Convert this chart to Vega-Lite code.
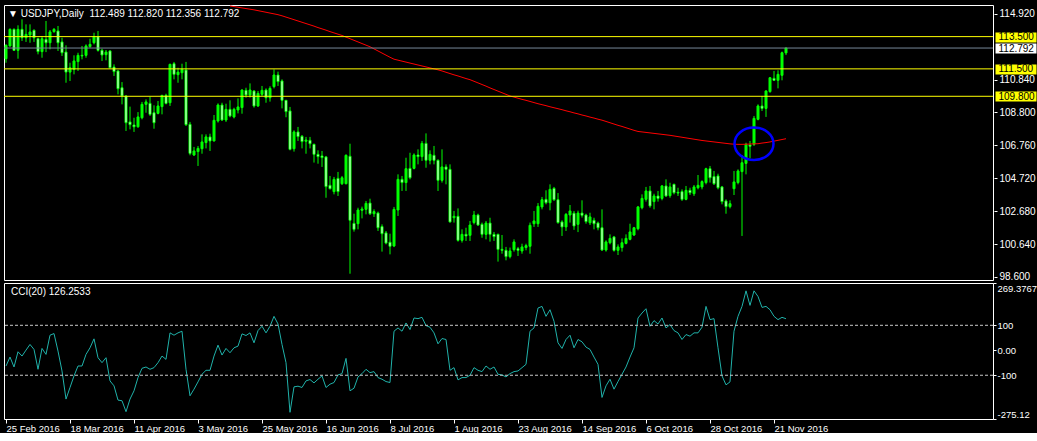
{
  "$schema": "https://vega.github.io/schema/vega-lite/v6.json",
  "background": "#000000",
  "padding": {"left": 3, "top": 4, "right": 0, "bottom": 0},
  "bounds": "flush",
  "spacing": 3,
  "datasets": {
    "bars": [
      {"d":"2016-02-25","o":112.13,"h":113.02,"l":111.88,"c":112.96,"cci":-62.9},
      {"d":"2016-02-26","o":112.92,"h":114.01,"l":112.88,"c":113.95,"cci":-27.1},
      {"d":"2016-02-29","o":113.95,"h":114.01,"l":112.61,"c":112.65,"cci":-66.9},
      {"d":"2016-03-01","o":112.65,"h":114.20,"l":112.13,"c":113.95,"cci":-5.9},
      {"d":"2016-03-02","o":113.95,"h":114.57,"l":113.23,"c":113.43,"cci":-23.1},
      {"d":"2016-03-03","o":113.43,"h":114.26,"l":113.17,"c":113.64,"cci":0.7},
      {"d":"2016-03-04","o":113.60,"h":114.26,"l":113.12,"c":113.79,"cci":23.3},
      {"d":"2016-03-07","o":113.89,"h":113.95,"l":113.17,"c":113.43,"cci":3.4},
      {"d":"2016-03-08","o":113.37,"h":113.43,"l":112.40,"c":112.57,"cci":-76.1},
      {"d":"2016-03-09","o":112.57,"h":113.54,"l":112.19,"c":113.37,"cci":7.4},
      {"d":"2016-03-10","o":113.33,"h":114.47,"l":112.54,"c":113.12,"cci":-16.5},
      {"d":"2016-03-11","o":113.12,"h":113.91,"l":112.71,"c":113.79,"cci":60.4},
      {"d":"2016-03-14","o":113.81,"h":114.03,"l":113.74,"c":113.95,"cci":67.0},
      {"d":"2016-03-15","o":113.85,"h":114.16,"l":112.61,"c":113.12,"cci":-3.2},
      {"d":"2016-03-16","o":113.17,"h":113.43,"l":112.30,"c":112.50,"cci":-82.8},
      {"d":"2016-03-17","o":112.54,"h":112.96,"l":110.64,"c":111.30,"cci":-195.4},
      {"d":"2016-03-18","o":111.30,"h":111.88,"l":110.75,"c":111.57,"cci":-149.0},
      {"d":"2016-03-21","o":111.47,"h":112.34,"l":111.16,"c":111.99,"cci":-102.6},
      {"d":"2016-03-22","o":111.95,"h":112.50,"l":111.37,"c":112.34,"cci":-62.9},
      {"d":"2016-03-23","o":112.34,"h":112.92,"l":112.09,"c":112.30,"cci":-62.9},
      {"d":"2016-03-24","o":112.34,"h":113.02,"l":112.19,"c":112.92,"cci":-16.5},
      {"d":"2016-03-25","o":112.88,"h":113.37,"l":112.81,"c":113.02,"cci":10.0},
      {"d":"2016-03-28","o":113.12,"h":113.74,"l":113.02,"c":113.50,"cci":45.8},
      {"d":"2016-03-29","o":113.50,"h":113.85,"l":112.57,"c":112.65,"cci":-29.7},
      {"d":"2016-03-30","o":112.65,"h":112.75,"l":111.99,"c":112.36,"cci":-49.6},
      {"d":"2016-03-31","o":112.38,"h":112.67,"l":112.03,"c":112.54,"cci":-29.7},
      {"d":"2016-04-01","o":112.61,"h":112.65,"l":111.53,"c":111.57,"cci":-122.5},
      {"d":"2016-04-04","o":111.61,"h":111.78,"l":111.06,"c":111.33,"cci":-142.4},
      {"d":"2016-04-05","o":111.37,"h":111.41,"l":109.92,"c":110.27,"cci":-199.4},
      {"d":"2016-04-06","o":110.33,"h":110.68,"l":109.30,"c":109.82,"cci":-202.0},
      {"d":"2016-04-07","o":109.82,"h":109.86,"l":107.65,"c":108.16,"cci":-245.8},
      {"d":"2016-04-08","o":108.21,"h":109.16,"l":107.75,"c":108.04,"cci":-195.4},
      {"d":"2016-04-11","o":108.02,"h":108.47,"l":107.59,"c":107.91,"cci":-162.3},
      {"d":"2016-04-12","o":107.91,"h":108.82,"l":107.85,"c":108.52,"cci":-109.3},
      {"d":"2016-04-13","o":108.47,"h":109.45,"l":108.37,"c":109.30,"cci":-72.2},
      {"d":"2016-04-14","o":109.30,"h":109.61,"l":108.78,"c":109.45,"cci":-66.9},
      {"d":"2016-04-15","o":109.36,"h":109.76,"l":108.58,"c":108.68,"cci":-76.1},
      {"d":"2016-04-18","o":108.78,"h":109.24,"l":107.79,"c":108.16,"cci":-69.5},
      {"d":"2016-04-19","o":108.74,"h":109.51,"l":108.68,"c":109.20,"cci":-49.6},
      {"d":"2016-04-20","o":109.16,"h":109.88,"l":108.68,"c":109.86,"cci":-23.1},
      {"d":"2016-04-21","o":109.86,"h":109.96,"l":109.30,"c":109.36,"cci":-36.4},
      {"d":"2016-04-22","o":109.40,"h":111.82,"l":109.20,"c":111.78,"cci":69.7},
      {"d":"2016-04-25","o":111.82,"h":111.93,"l":110.85,"c":111.16,"cci":60.4},
      {"d":"2016-04-26","o":111.14,"h":111.57,"l":110.64,"c":111.30,"cci":69.7},
      {"d":"2016-04-27","o":111.26,"h":111.82,"l":110.85,"c":111.47,"cci":76.3},
      {"d":"2016-04-28","o":111.43,"h":111.93,"l":107.96,"c":108.04,"cci":-76.1},
      {"d":"2016-04-29","o":108.06,"h":108.21,"l":106.14,"c":106.26,"cci":-182.2},
      {"d":"2016-05-02","o":106.16,"h":106.66,"l":106.10,"c":106.41,"cci":-155.7},
      {"d":"2016-05-03","o":106.37,"h":106.72,"l":105.48,"c":106.57,"cci":-126.5},
      {"d":"2016-05-04","o":106.55,"h":107.44,"l":106.24,"c":106.97,"cci":-96.0},
      {"d":"2016-05-05","o":106.93,"h":107.44,"l":106.57,"c":107.28,"cci":-80.1},
      {"d":"2016-05-06","o":107.28,"h":107.48,"l":106.41,"c":107.03,"cci":-80.1},
      {"d":"2016-05-09","o":107.03,"h":108.64,"l":107.00,"c":108.31,"cci":-23.1},
      {"d":"2016-05-10","o":108.27,"h":109.36,"l":108.17,"c":109.26,"cci":20.6},
      {"d":"2016-05-11","o":109.26,"h":109.40,"l":108.27,"c":108.33,"cci":-19.1},
      {"d":"2016-05-12","o":108.33,"h":109.34,"l":108.21,"c":108.99,"cci":7.4},
      {"d":"2016-05-13","o":108.99,"h":109.55,"l":108.50,"c":108.58,"cci":-9.9,"ma":115.40},
      {"d":"2016-05-16","o":108.52,"h":109.09,"l":108.43,"c":108.99,"cci":10.0,"ma":115.36},
      {"d":"2016-05-17","o":108.95,"h":109.67,"l":108.74,"c":109.14,"cci":16.6,"ma":115.32},
      {"d":"2016-05-18","o":109.10,"h":110.23,"l":108.72,"c":110.19,"cci":65.7,"ma":115.28},
      {"d":"2016-05-19","o":110.17,"h":110.33,"l":109.71,"c":109.88,"cci":59.1,"ma":115.24},
      {"d":"2016-05-20","o":109.88,"h":110.60,"l":109.72,"c":110.19,"cci":69.7,"ma":115.20},
      {"d":"2016-05-23","o":110.13,"h":110.17,"l":109.10,"c":109.20,"cci":29.9,"ma":115.16},
      {"d":"2016-05-24","o":109.20,"h":110.13,"l":109.14,"c":109.98,"cci":78.9,"ma":115.11},
      {"d":"2016-05-25","o":109.92,"h":110.44,"l":109.82,"c":110.17,"cci":96.2,"ma":115.06},
      {"d":"2016-05-26","o":110.19,"h":110.29,"l":109.40,"c":109.71,"cci":69.7,"ma":115.01},
      {"d":"2016-05-27","o":109.71,"h":110.42,"l":109.47,"c":110.29,"cci":96.2,"ma":114.96},
      {"d":"2016-05-30","o":110.40,"h":111.47,"l":110.29,"c":111.12,"cci":135.9,"ma":114.91},
      {"d":"2016-05-31","o":111.12,"h":111.33,"l":110.44,"c":110.71,"cci":105.4,"ma":114.86},
      {"d":"2016-06-01","o":110.75,"h":110.85,"l":109.05,"c":109.55,"cci":23.3,"ma":114.79},
      {"d":"2016-06-02","o":109.55,"h":109.57,"l":108.50,"c":108.85,"cci":-49.6,"ma":114.71},
      {"d":"2016-06-03","o":108.89,"h":109.14,"l":106.45,"c":106.51,"cci":-248.4,"ma":114.63},
      {"d":"2016-06-06","o":106.55,"h":107.69,"l":106.37,"c":107.59,"cci":-146.4,"ma":114.55},
      {"d":"2016-06-07","o":107.59,"h":107.90,"l":107.03,"c":107.30,"cci":-143.7,"ma":114.47},
      {"d":"2016-06-08","o":107.32,"h":107.40,"l":106.57,"c":106.99,"cci":-149.0,"ma":114.39},
      {"d":"2016-06-09","o":107.01,"h":107.28,"l":106.24,"c":107.09,"cci":-122.5,"ma":114.31},
      {"d":"2016-06-10","o":107.07,"h":107.28,"l":106.57,"c":106.86,"cci":-117.2,"ma":114.23},
      {"d":"2016-06-13","o":106.82,"h":106.86,"l":105.69,"c":106.20,"cci":-130.5,"ma":114.15},
      {"d":"2016-06-14","o":106.20,"h":106.45,"l":105.62,"c":106.06,"cci":-115.9,"ma":114.06},
      {"d":"2016-06-15","o":106.10,"h":106.41,"l":105.42,"c":106.00,"cci":-102.6,"ma":113.98},
      {"d":"2016-06-16","o":106.04,"h":106.10,"l":103.51,"c":104.20,"cci":-149.0,"ma":113.90},
      {"d":"2016-06-17","o":104.28,"h":104.86,"l":104.03,"c":104.07,"cci":-135.8,"ma":113.81},
      {"d":"2016-06-20","o":103.89,"h":104.80,"l":103.72,"c":104.65,"cci":-129.1,"ma":113.73},
      {"d":"2016-06-21","o":104.71,"h":105.11,"l":103.62,"c":103.89,"cci":-98.7,"ma":113.65},
      {"d":"2016-06-22","o":104.38,"h":104.86,"l":104.30,"c":104.75,"cci":-93.4,"ma":113.57},
      {"d":"2016-06-23","o":104.38,"h":106.20,"l":104.34,"c":106.14,"cci":-32.4,"ma":113.47},
      {"d":"2016-06-24","o":106.08,"h":106.86,"l":98.80,"c":102.11,"cci":-162.3,"ma":113.37},
      {"d":"2016-06-27","o":101.92,"h":102.52,"l":101.41,"c":101.55,"cci":-151.7,"ma":113.27},
      {"d":"2016-06-28","o":101.90,"h":102.89,"l":101.55,"c":102.75,"cci":-106.6,"ma":113.17},
      {"d":"2016-06-29","o":102.73,"h":102.96,"l":102.23,"c":102.81,"cci":-93.4,"ma":113.07},
      {"d":"2016-06-30","o":102.79,"h":103.31,"l":102.48,"c":103.16,"cci":-76.1,"ma":112.97},
      {"d":"2016-07-01","o":103.18,"h":103.45,"l":102.44,"c":102.52,"cci":-89.4,"ma":112.87},
      {"d":"2016-07-04","o":102.52,"h":102.79,"l":102.32,"c":102.65,"cci":-85.4,"ma":112.74},
      {"d":"2016-07-05","o":102.56,"h":102.65,"l":101.45,"c":101.65,"cci":-109.3,"ma":112.61},
      {"d":"2016-07-06","o":101.72,"h":101.86,"l":100.17,"c":101.28,"cci":-115.9,"ma":112.48},
      {"d":"2016-07-07","o":101.33,"h":101.45,"l":100.62,"c":100.70,"cci":-125.2,"ma":112.35},
      {"d":"2016-07-08","o":100.75,"h":101.28,"l":100.00,"c":100.50,"cci":-129.1,"ma":112.22},
      {"d":"2016-07-11","o":100.52,"h":102.94,"l":100.45,"c":102.79,"cci":76.3,"ma":112.10},
      {"d":"2016-07-12","o":102.75,"h":104.96,"l":102.38,"c":104.65,"cci":89.5,"ma":112.04},
      {"d":"2016-07-13","o":104.65,"h":104.86,"l":103.93,"c":104.45,"cci":76.3,"ma":111.98},
      {"d":"2016-07-14","o":104.45,"h":105.99,"l":103.93,"c":105.31,"cci":109.4,"ma":111.92},
      {"d":"2016-07-15","o":105.33,"h":106.30,"l":104.65,"c":104.75,"cci":82.9,"ma":111.86},
      {"d":"2016-07-18","o":105.33,"h":106.26,"l":105.27,"c":106.16,"cci":129.3,"ma":111.80},
      {"d":"2016-07-19","o":106.16,"h":106.51,"l":105.58,"c":106.06,"cci":126.7,"ma":111.74},
      {"d":"2016-07-20","o":106.06,"h":107.03,"l":105.79,"c":106.88,"cci":131.9,"ma":111.68},
      {"d":"2016-07-21","o":106.88,"h":107.50,"l":105.37,"c":105.83,"cci":98.8,"ma":111.62},
      {"d":"2016-07-22","o":105.83,"h":106.45,"l":105.58,"c":106.20,"cci":92.2,"ma":111.56},
      {"d":"2016-07-25","o":106.14,"h":106.72,"l":105.58,"c":105.83,"cci":69.7,"ma":111.50},
      {"d":"2016-07-26","o":105.83,"h":105.89,"l":103.93,"c":104.59,"cci":25.9,"ma":111.44},
      {"d":"2016-07-27","o":104.59,"h":106.51,"l":104.45,"c":105.42,"cci":47.1,"ma":111.37},
      {"d":"2016-07-28","o":105.42,"h":105.58,"l":104.34,"c":105.27,"cci":43.2,"ma":111.29},
      {"d":"2016-07-29","o":105.27,"h":105.58,"l":101.97,"c":102.01,"cci":-80.1,"ma":111.21},
      {"d":"2016-08-01","o":102.27,"h":102.69,"l":101.97,"c":102.36,"cci":-69.5,"ma":111.13},
      {"d":"2016-08-02","o":102.36,"h":102.85,"l":100.79,"c":100.87,"cci":-118.5,"ma":111.06},
      {"d":"2016-08-03","o":100.87,"h":101.55,"l":100.73,"c":101.24,"cci":-109.3,"ma":110.98},
      {"d":"2016-08-04","o":101.24,"h":101.65,"l":100.83,"c":101.14,"cci":-109.3,"ma":110.90},
      {"d":"2016-08-05","o":101.18,"h":102.07,"l":100.83,"c":101.82,"cci":-100.0,"ma":110.83},
      {"d":"2016-08-08","o":101.97,"h":102.69,"l":101.86,"c":102.44,"cci":-69.5,"ma":110.73},
      {"d":"2016-08-09","o":102.44,"h":102.52,"l":101.76,"c":101.82,"cci":-80.1,"ma":110.63},
      {"d":"2016-08-10","o":101.86,"h":101.97,"l":101.03,"c":101.24,"cci":-85.4,"ma":110.53},
      {"d":"2016-08-11","o":101.24,"h":102.07,"l":100.93,"c":101.94,"cci":-62.9,"ma":110.43},
      {"d":"2016-08-12","o":101.94,"h":102.27,"l":100.79,"c":101.24,"cci":-76.1,"ma":110.32},
      {"d":"2016-08-15","o":101.24,"h":101.39,"l":100.83,"c":101.10,"cci":-66.9,"ma":110.22},
      {"d":"2016-08-16","o":101.24,"h":101.28,"l":99.55,"c":100.31,"cci":-96.0,"ma":110.12},
      {"d":"2016-08-17","o":100.31,"h":101.20,"l":100.04,"c":100.25,"cci":-98.7,"ma":110.02},
      {"d":"2016-08-18","o":100.25,"h":100.46,"l":99.63,"c":99.86,"cci":-106.6,"ma":109.92},
      {"d":"2016-08-19","o":99.86,"h":100.42,"l":99.75,"c":100.21,"cci":-93.4,"ma":109.82},
      {"d":"2016-08-22","o":100.29,"h":100.93,"l":100.17,"c":100.77,"cci":-85.4,"ma":109.75},
      {"d":"2016-08-23","o":100.35,"h":100.46,"l":99.90,"c":100.25,"cci":-82.8,"ma":109.68},
      {"d":"2016-08-24","o":100.21,"h":100.66,"l":100.04,"c":100.46,"cci":-69.5,"ma":109.61},
      {"d":"2016-08-25","o":100.42,"h":100.66,"l":100.25,"c":100.54,"cci":-56.3,"ma":109.55},
      {"d":"2016-08-26","o":100.50,"h":101.97,"l":100.04,"c":101.80,"cci":76.3,"ma":109.48},
      {"d":"2016-08-29","o":101.90,"h":102.69,"l":101.70,"c":102.07,"cci":89.5,"ma":109.41},
      {"d":"2016-08-30","o":101.90,"h":103.18,"l":101.70,"c":102.98,"cci":169.1,"ma":109.34},
      {"d":"2016-08-31","o":102.94,"h":103.56,"l":102.79,"c":103.39,"cci":175.7,"ma":109.28},
      {"d":"2016-09-01","o":103.41,"h":103.97,"l":103.10,"c":103.20,"cci":135.9,"ma":109.22},
      {"d":"2016-09-02","o":103.20,"h":104.34,"l":102.73,"c":104.03,"cci":162.4,"ma":109.15},
      {"d":"2016-09-05","o":104.09,"h":104.18,"l":103.31,"c":103.39,"cci":116.1,"ma":109.09},
      {"d":"2016-09-06","o":103.39,"h":103.80,"l":101.90,"c":101.97,"cci":29.9,"ma":109.03},
      {"d":"2016-09-07","o":102.01,"h":102.11,"l":101.14,"c":101.70,"cci":7.4,"ma":108.97},
      {"d":"2016-09-08","o":101.70,"h":102.56,"l":101.45,"c":102.48,"cci":43.2,"ma":108.90},
      {"d":"2016-09-09","o":102.44,"h":103.06,"l":101.97,"c":102.69,"cci":60.4,"ma":108.84},
      {"d":"2016-09-12","o":102.55,"h":102.69,"l":101.52,"c":101.76,"cci":10.0,"ma":108.77},
      {"d":"2016-09-13","o":101.86,"h":102.71,"l":101.38,"c":102.56,"cci":43.2,"ma":108.71},
      {"d":"2016-09-14","o":102.56,"h":103.35,"l":102.28,"c":102.42,"cci":33.9,"ma":108.64},
      {"d":"2016-09-15","o":102.44,"h":102.52,"l":101.90,"c":102.03,"cci":12.7,"ma":108.58},
      {"d":"2016-09-16","o":101.96,"h":102.58,"l":101.82,"c":102.32,"cci":3.4,"ma":108.51},
      {"d":"2016-09-19","o":102.11,"h":102.27,"l":101.55,"c":101.90,"cci":-27.1,"ma":108.45},
      {"d":"2016-09-20","o":101.94,"h":102.03,"l":101.49,"c":101.65,"cci":-56.3,"ma":108.38},
      {"d":"2016-09-21","o":101.65,"h":102.79,"l":100.21,"c":100.27,"cci":-188.8,"ma":108.32},
      {"d":"2016-09-22","o":100.27,"h":100.87,"l":100.17,"c":100.77,"cci":-142.4,"ma":108.24},
      {"d":"2016-09-23","o":100.72,"h":101.24,"l":100.62,"c":100.99,"cci":-115.9,"ma":108.16},
      {"d":"2016-09-26","o":101.08,"h":101.14,"l":100.17,"c":100.25,"cci":-155.7,"ma":108.08},
      {"d":"2016-09-27","o":100.25,"h":100.62,"l":99.96,"c":100.46,"cci":-125.2,"ma":108.00},
      {"d":"2016-09-28","o":100.42,"h":100.99,"l":100.17,"c":100.72,"cci":-96.0,"ma":107.93},
      {"d":"2016-09-29","o":100.68,"h":101.24,"l":100.62,"c":100.99,"cci":-66.9,"ma":107.85},
      {"d":"2016-09-30","o":100.93,"h":101.90,"l":100.87,"c":101.39,"cci":-27.1,"ma":107.77},
      {"d":"2016-10-03","o":101.20,"h":101.70,"l":101.14,"c":101.65,"cci":10.0,"ma":107.69},
      {"d":"2016-10-04","o":101.59,"h":103.00,"l":101.49,"c":102.94,"cci":129.3,"ma":107.62},
      {"d":"2016-10-05","o":102.89,"h":103.72,"l":102.79,"c":103.47,"cci":149.2,"ma":107.59},
      {"d":"2016-10-06","o":103.41,"h":104.18,"l":103.27,"c":103.93,"cci":166.4,"ma":107.56},
      {"d":"2016-10-07","o":103.93,"h":104.24,"l":102.89,"c":103.00,"cci":96.2,"ma":107.53},
      {"d":"2016-10-10","o":103.27,"h":103.76,"l":102.79,"c":103.62,"cci":118.7,"ma":107.50},
      {"d":"2016-10-11","o":103.62,"h":103.93,"l":103.27,"c":103.47,"cci":105.4,"ma":107.47},
      {"d":"2016-10-12","o":103.47,"h":104.30,"l":103.35,"c":104.24,"cci":129.3,"ma":107.44},
      {"d":"2016-10-13","o":104.24,"h":104.65,"l":103.56,"c":103.62,"cci":89.5,"ma":107.41},
      {"d":"2016-10-14","o":103.64,"h":104.44,"l":103.51,"c":104.18,"cci":102.8,"ma":107.38},
      {"d":"2016-10-17","o":104.34,"h":104.38,"l":103.72,"c":103.82,"cci":78.9,"ma":107.34},
      {"d":"2016-10-18","o":103.85,"h":104.13,"l":103.62,"c":103.80,"cci":69.7,"ma":107.30},
      {"d":"2016-10-19","o":103.89,"h":104.03,"l":103.31,"c":103.41,"cci":43.2,"ma":107.26},
      {"d":"2016-10-20","o":103.41,"h":104.24,"l":103.35,"c":103.97,"cci":63.0,"ma":107.22},
      {"d":"2016-10-21","o":103.97,"h":104.13,"l":103.68,"c":103.82,"cci":56.4,"ma":107.18},
      {"d":"2016-10-24","o":103.76,"h":104.30,"l":103.62,"c":104.18,"cci":69.7,"ma":107.14},
      {"d":"2016-10-25","o":104.13,"h":104.92,"l":104.03,"c":104.28,"cci":69.7,"ma":107.10},
      {"d":"2016-10-26","o":104.18,"h":104.59,"l":104.03,"c":104.51,"cci":92.2,"ma":107.06},
      {"d":"2016-10-27","o":104.45,"h":105.37,"l":104.34,"c":105.31,"cci":175.7,"ma":107.03},
      {"d":"2016-10-28","o":105.31,"h":105.48,"l":104.45,"c":104.75,"cci":122.7,"ma":107.00},
      {"d":"2016-10-31","o":104.82,"h":105.17,"l":104.30,"c":104.38,"cci":126.7,"ma":106.97},
      {"d":"2016-11-01","o":104.86,"h":105.00,"l":104.03,"c":104.13,"cci":10.0,"ma":106.94},
      {"d":"2016-11-02","o":104.18,"h":104.24,"l":103.10,"c":103.27,"cci":-102.6,"ma":106.91},
      {"d":"2016-11-03","o":103.31,"h":103.41,"l":102.52,"c":102.96,"cci":-138.4,"ma":106.88},
      {"d":"2016-11-04","o":102.96,"h":103.35,"l":102.85,"c":103.14,"cci":-126.5,"ma":106.85},
      {"d":"2016-11-07","o":104.07,"h":105.17,"l":103.68,"c":104.49,"cci":76.3,"ma":106.83},
      {"d":"2016-11-08","o":104.45,"h":105.27,"l":104.34,"c":105.17,"cci":135.9,"ma":106.82},
      {"d":"2016-11-09","o":105.13,"h":106.16,"l":101.14,"c":105.68,"cci":175.7,"ma":106.82},
      {"d":"2016-11-10","o":105.64,"h":106.92,"l":104.96,"c":106.82,"cci":238.0,"ma":106.83},
      {"d":"2016-11-11","o":106.78,"h":107.03,"l":105.95,"c":106.70,"cci":179.7,"ma":106.84},
      {"d":"2016-11-14","o":106.82,"h":108.58,"l":106.72,"c":108.43,"cci":238.0,"ma":106.85},
      {"d":"2016-11-15","o":108.37,"h":109.30,"l":108.31,"c":109.20,"cci":215.5,"ma":106.86},
      {"d":"2016-11-16","o":109.20,"h":109.82,"l":108.89,"c":109.05,"cci":171.7,"ma":106.90},
      {"d":"2016-11-17","o":109.05,"h":110.17,"l":108.52,"c":110.13,"cci":175.7,"ma":106.93},
      {"d":"2016-11-18","o":110.09,"h":110.99,"l":110.02,"c":110.95,"cci":162.4,"ma":106.97},
      {"d":"2016-11-21","o":110.91,"h":111.37,"l":110.75,"c":110.79,"cci":135.9,"ma":107.02},
      {"d":"2016-11-22","o":110.79,"h":111.41,"l":110.29,"c":111.16,"cci":122.7,"ma":107.07},
      {"d":"2016-11-23","o":111.10,"h":112.57,"l":110.79,"c":112.50,"cci":131.9,"ma":107.12},
      {"d":"2016-11-24","o":112.489,"h":112.820,"l":112.356,"c":112.792,"cci":126.2533,"ma":107.17}
    ],
    "levels": [{"p": 113.5}, {"p": 111.5}, {"p": 109.8}],
    "bid": [{"p": 112.792}],
    "marker": [{"d": "2016-11-14", "p": 106.86}],
    "ccilevels": [{"v": 100}, {"v": -100}]
  },
  "config": {
    "view": {"stroke": "#ffffff", "strokeWidth": 1},
    "axis": {"labelFont": "Liberation Sans", "labelFontSize": 10, "labelColor": "#ffffff", "tickColor": "#ffffff", "domain": false, "grid": false, "labelOverlap": false, "labelBound": false},
    "title": {"font": "Liberation Sans", "fontSize": 10, "fontWeight": "normal", "color": "#ffffff", "anchor": "start", "frame": "group"}
  },
  "vconcat": [
    {
      "width": 989,
      "height": 275,
      "title": {"text": "\u25bc USDJPY,Daily\u00a0 112.489 112.820 112.356 112.792", "offset": -14, "dx": 4},
      "resolve": {"scale": {"y": "shared"}, "axis": {"y": "independent"}},
      "layer": [
        {
          "data": {"name": "bars"},
          "mark": {"type": "rule", "color": "#00ff00", "strokeWidth": 1},
          "encoding": {
            "x": {"field": "d", "type": "ordinal", "sort": null, "scale": {"type": "point", "range": [2, 782], "padding": 0}, "axis": null},
            "y": {"field": "l", "type": "quantitative", "scale": {"domain": [98.41, 115.46], "zero": false, "nice": false},
              "axis": {"orient": "right", "title": null, "values": [98.6, 100.64, 102.68, 104.72, 106.76, 108.8, 110.84, 114.92], "format": ".3f", "tickSize": 3, "labelPadding": 2, "offset": 1, "labelFlush": false}},
            "y2": {"field": "h"}
          }
        },
        {
          "data": {"name": "bars"},
          "mark": {"type": "bar", "size": 2, "stroke": "#00ff00", "strokeWidth": 1},
          "encoding": {
            "x": {"field": "d", "type": "ordinal", "sort": null, "scale": {"type": "point", "range": [2, 782], "padding": 0}, "axis": null},
            "y": {"field": "o", "type": "quantitative", "scale": {"domain": [98.41, 115.46], "zero": false, "nice": false}, "axis": null},
            "y2": {"field": "c"},
            "fill": {"condition": {"test": "datum.c < datum.o", "value": "#ffffff"}, "value": "#00ff00"}
          }
        },
        {
          "data": {"name": "bars"},
          "mark": {"type": "line", "color": "#ff0000", "strokeWidth": 1, "clip": true},
          "encoding": {
            "x": {"field": "d", "type": "ordinal", "sort": null, "scale": {"type": "point", "range": [2, 782], "padding": 0}, "axis": null},
            "y": {"field": "ma", "type": "quantitative", "scale": {"domain": [98.41, 115.46], "zero": false, "nice": false}, "axis": null}
          }
        },
        {
          "data": {"name": "levels"},
          "mark": {"type": "rule", "color": "#ffff00", "strokeWidth": 1},
          "encoding": {
            "y": {"field": "p", "type": "quantitative", "scale": {"domain": [98.41, 115.46], "zero": false, "nice": false},
              "axis": {"orient": "right", "title": null, "values": [109.8, 111.5, 113.5], "format": ".3f", "offset": 2, "tickSize": 41, "tickWidth": 10, "tickColor": "#ffff00", "tickCap": "butt", "labelColor": "#000000", "labelPadding": -38, "labelAlign": "left", "labelFlush": false}}
          }
        },
        {
          "data": {"name": "bid"},
          "mark": {"type": "rule", "color": "#778899", "strokeWidth": 1},
          "encoding": {
            "y": {"field": "p", "type": "quantitative", "scale": {"domain": [98.41, 115.46], "zero": false, "nice": false},
              "axis": {"orient": "right", "title": null, "values": [112.792], "format": ".3f", "offset": 2, "tickSize": 41, "tickWidth": 10, "tickColor": "#ffffff", "tickCap": "butt", "labelColor": "#000000", "labelPadding": -38, "labelAlign": "left", "labelFlush": false}}
          }
        },
        {
          "data": {"name": "marker"},
          "mark": {"type": "point", "filled": false, "shape": "M-1,0A1,0.836,0,1,1,1,0A1,0.836,0,1,1,-1,0Z", "size": 1521, "stroke": "#0000ff", "strokeWidth": 2.5, "opacity": 1},
          "encoding": {
            "x": {"field": "d", "type": "ordinal", "sort": null, "scale": {"type": "point", "range": [2, 782], "padding": 0}, "axis": null},
            "y": {"field": "p", "type": "quantitative", "scale": {"domain": [98.41, 115.46], "zero": false, "nice": false}, "axis": null}
          }
        }
      ]
    },
    {
      "width": 989,
      "height": 136,
      "title": {"text": "CCI(20) 126.2533", "offset": -14, "dx": 7},
      "layer": [
        {
          "data": {"name": "bars"},
          "mark": {"type": "line", "color": "#20b2aa", "strokeWidth": 1},
          "encoding": {
            "x": {"field": "d", "type": "ordinal", "sort": null, "scale": {"type": "point", "range": [2, 782], "padding": 0},
              "axis": {"title": null, "values": ["2016-02-25","2016-03-18","2016-04-11","2016-05-03","2016-05-25","2016-06-16","2016-07-08","2016-08-01","2016-08-23","2016-09-14","2016-10-06","2016-10-28","2016-11-21"],
                "labelExpr": "utcFormat(toDate(datum.value), '%-d %b %Y')", "labelAlign": "left", "labelAngle": 0, "labelFontSize": 9.5, "tickSize": 4, "labelPadding": 0, "labelFlush": false}},
            "y": {"field": "cci", "type": "quantitative", "scale": {"domain": [-275.12, 269.3767], "zero": false, "nice": false},
              "axis": {"orient": "right", "title": null, "values": [-275.12, -100, 0, 100, 269.3767], "labelExpr": "datum.value == 0 ? '0.00' : toString(datum.value)", "labelFontSize": 9.5, "tickSize": 3, "labelPadding": 1, "offset": 0, "labelFlush": true}}
          }
        },
        {
          "data": {"name": "ccilevels"},
          "mark": {"type": "rule", "color": "#c8c8c8", "strokeWidth": 1, "strokeDash": [3, 2]},
          "encoding": {
            "y": {"field": "v", "type": "quantitative", "scale": {"domain": [-275.12, 269.3767], "zero": false, "nice": false},
              "axis": {"orient": "right", "title": null, "values": [-275.12, -100, 0, 100, 269.3767], "labelExpr": "datum.value == 0 ? '0.00' : toString(datum.value)", "labelFontSize": 9.5, "tickSize": 3, "labelPadding": 1, "offset": 0, "labelFlush": true}}
          }
        }
      ]
    }
  ]
}
